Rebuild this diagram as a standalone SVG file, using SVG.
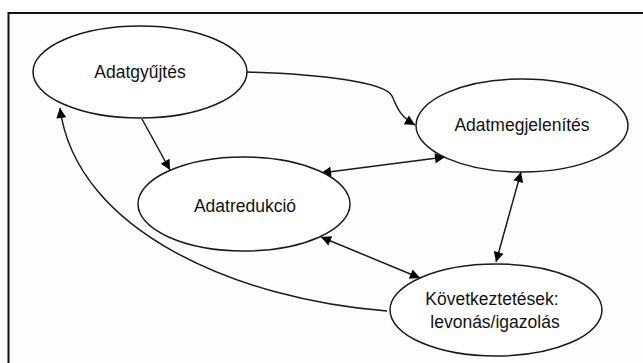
<svg xmlns="http://www.w3.org/2000/svg" width="643" height="363" viewBox="0 0 643 363">
  <style>
    .node ellipse { fill: #ffffff; stroke: #1a1a1a; stroke-width: 1.5; }
    .node text { font-family: "Liberation Sans", Arial, sans-serif; font-size: 17.5px; fill: #111111; text-anchor: middle; }
    .edge { fill: none; stroke: #1a1a1a; stroke-width: 1.5; }
    .one { marker-end: url(#head); }
    .both { marker-start: url(#head); marker-end: url(#head); }
  </style>
  <defs>
    <marker id="head" viewBox="0 0 10 10" refX="10" refY="5" markerUnits="userSpaceOnUse" markerWidth="14" markerHeight="10" orient="auto-start-reverse">
      <path d="M0,0 L10,5 L0,10 z" fill="#000000"/>
    </marker>
  </defs>

  <rect x="0" y="0" width="643" height="363" fill="#ffffff"/>
  <!-- frame: only the top and left edges fall inside the canvas -->
  <rect x="8.5" y="13" width="660" height="380" fill="#fdfdfd" stroke="#111111" stroke-width="2"/>

  <g id="connectors">
    <path class="edge one" d="M247,72 C320,74 385,82 392,96 C397,106 398,115 415,125"/>
    <path class="edge one" d="M142,119 L170,170"/>
    <path class="edge both" d="M321,173 L445,157"/>
    <path class="edge both" d="M321,237 L420,278"/>
    <path class="edge both" d="M521,172 L496,262"/>
    <path class="edge one" d="M387,311 C240,300 76,232 60,108"/>
  </g>

  <g id="adatgyujtes" class="node">
    <ellipse cx="140" cy="72" rx="107" ry="46"/>
    <text x="140" y="78">Adatgyűjtés</text>
  </g>
  <g id="adatmegjelenites" class="node">
    <ellipse cx="522" cy="125.5" rx="106" ry="46.5"/>
    <text x="522" y="131">Adatmegjelenítés</text>
  </g>
  <g id="adatredukcio" class="node">
    <ellipse cx="244" cy="204" rx="106" ry="47"/>
    <text x="245" y="212">Adatredukció</text>
  </g>
  <g id="kovetkeztetesek" class="node">
    <ellipse cx="496" cy="310" rx="106" ry="46"/>
    <text x="492" y="305">Következtetések:</text>
    <text x="495" y="328">levonás/igazolás</text>
  </g>
</svg>
